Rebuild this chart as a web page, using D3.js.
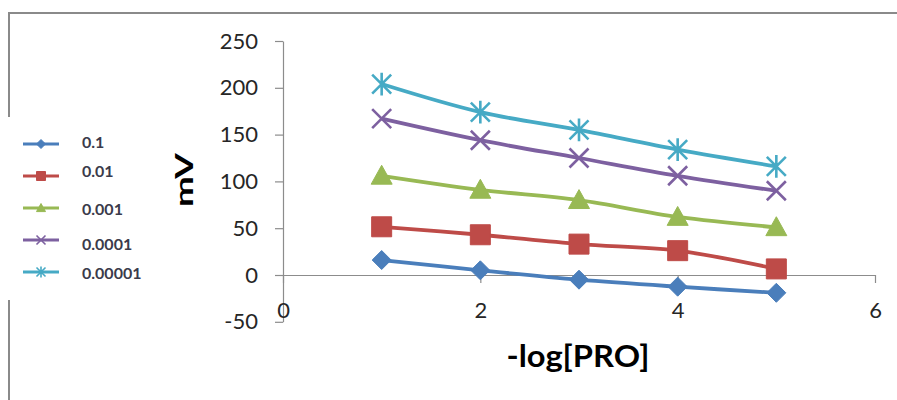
<!DOCTYPE html>
<html>
<head>
<meta charset="utf-8">
<script src="https://cdn.jsdelivr.net/npm/d3@7"></script>
<style>
  html, body { margin: 0; padding: 0; background: #fff; }
  svg { display: block; }
  text { font-family: Lato, "Open Sans", sans-serif; }
</style>
</head>
<body>
<svg id="chart" width="897" height="400"></svg>
<script>
// -log[PRO] positions and measured potentials (mV) per concentration
const xValues = [1, 2, 3, 4, 5];
const seriesNames = ["0.1", "0.01", "0.001", "0.0001", "0.00001"];
const mv_0_1     = [16, 5, -5, -12.5, -19];
const mv_0_01    = [51.5, 43, 33, 26, 6.5];
const mv_0_001   = [106, 91, 80, 62, 51];
const mv_0_0001  = [167, 144, 125, 106, 90];
const mv_0_00001 = [204, 174, 155, 134, 116];
const seriesValues = [mv_0_1, mv_0_01, mv_0_001, mv_0_0001, mv_0_00001];
const colors = ["#4A7EBB", "#BE4B48", "#98B954", "#7D60A0", "#46AAC5"];
const markers = ["diamond", "square", "triangle", "x", "star"];
const yTicks = [-50, 0, 50, 100, 150, 200, 250];
const xTicks = [0, 2, 4, 6];

const svg = d3.select("#chart");

// outer chart frame (top and left edges)
svg.append("path")
  .attr("d", "M9,400 L9,13 L897,13")
  .attr("fill", "none").attr("stroke", "#8a8a8a").attr("stroke-width", 2);

const x = d3.scaleLinear().domain([0, 6]).range([283, 875]);
const y = d3.scaleLinear().domain([-50, 250]).range([321.8, 41]);
const plain = d => String(d);

// y axis
const yAxis = svg.append("g").attr("transform", `translate(${x(0)},0)`)
  .call(d3.axisLeft(y).tickValues(yTicks).tickFormat(plain).tickSize(8).tickPadding(17).tickSizeOuter(0));
yAxis.select(".domain").attr("stroke", "#8c8c8c").attr("stroke-width", 1.2);
yAxis.selectAll(".tick line").attr("stroke", "#8c8c8c").attr("stroke-width", 1.2);
yAxis.selectAll(".tick text").attr("fill", "#262626").attr("font-size", 22);

// x axis drawn along the zero line
const xAxis = svg.append("g").attr("transform", `translate(0,${y(0)})`)
  .call(d3.axisBottom(x).tickValues(xTicks).tickFormat(plain).tickSize(8).tickPadding(0).tickSizeOuter(0));
xAxis.select(".domain").attr("stroke", "#8c8c8c").attr("stroke-width", 1.2);
xAxis.selectAll(".tick line").attr("stroke", "#8c8c8c").attr("stroke-width", 1.2);
xAxis.selectAll(".tick text").attr("fill", "#262626").attr("font-size", 22)
  .attr("dy", null).attr("y", 43);

// axis titles
svg.append("text")
  .attr("transform", `translate(193,180) rotate(-90)`)
  .attr("text-anchor", "middle").attr("font-weight", "bold").attr("font-size", 25)
  .attr("textLength", 54).attr("lengthAdjust", "spacingAndGlyphs")
  .attr("fill", "#000").text("mV");
svg.append("text")
  .attr("x", 578).attr("y", 367)
  .attr("text-anchor", "middle").attr("font-weight", "bold").attr("font-size", 30)
  .attr("textLength", 143).attr("lengthAdjust", "spacingAndGlyphs")
  .attr("fill", "#000").text("-log[PRO]");

function markerPath(type, s) {
  const h = s / 2;
  switch (type) {
    case "diamond": return `M0,${-h}L${h},0L0,${h}L${-h},0Z`;
    case "square": return `M${-h},${-h}H${h}V${h}H${-h}Z`;
    case "triangle": return `M0,${-h}L${h},${h * 0.8}L${-h},${h * 0.8}Z`;
    case "x": return `M${-h},${-h}L${h},${h}M${-h},${h}L${h},${-h}`;
    case "star": return `M${-h},${-h}L${h},${h}M${-h},${h}L${h},${-h}M0,${-h * 1.2}V${h * 1.2}`;
  }
}
function drawMarker(g, type, color, s, w) {
  const filled = type === "diamond" || type === "square" || type === "triangle";
  g.append("path").attr("d", markerPath(type, s))
    .attr("fill", filled ? color : "none")
    .attr("stroke", color)
    .attr("stroke-width", filled ? 1 : w);
}

const line = d3.line().x((d, i) => x(xValues[i])).y(d => y(d)).curve(d3.curveCatmullRom);

const plot = svg.append("g");
const sizes = { diamond: 19, square: 20, triangle: 21, x: 19, star: 19 };
seriesValues.forEach((vals, k) => {
  plot.append("path").datum(vals)
    .attr("d", line)
    .attr("fill", "none").attr("stroke", colors[k]).attr("stroke-width", 3.8)
    .attr("stroke-linejoin", "round");
  vals.forEach((v, i) => {
    const g = plot.append("g").attr("transform", `translate(${x(xValues[i])},${y(v)})`);
    drawMarker(g, markers[k], colors[k], sizes[markers[k]], 2.6);
  });
});

// legend
const legendRows = [144, 176, 208, 240, 272];
const labelY = [148, 177, 215, 250, 279];
const legend = svg.append("g");
legend.append("rect").attr("x", 8).attr("y", 117).attr("width", 165).attr("height", 183).attr("fill", "#fff");
seriesNames.forEach((name, k) => {
  legend.append("line")
    .attr("x1", 23).attr("x2", 59).attr("y1", legendRows[k]).attr("y2", legendRows[k])
    .attr("stroke", colors[k]).attr("stroke-width", 2.8);
  const g = legend.append("g").attr("transform", `translate(41,${legendRows[k]})`);
  drawMarker(g, markers[k], colors[k], 9, 1.6);
  legend.append("text")
    .attr("x", 82).attr("y", labelY[k])
    .attr("font-size", 16).attr("font-weight", "bold").attr("fill", "#3b3b4b")
    .text(name);
});
</script>
</body>
</html>
